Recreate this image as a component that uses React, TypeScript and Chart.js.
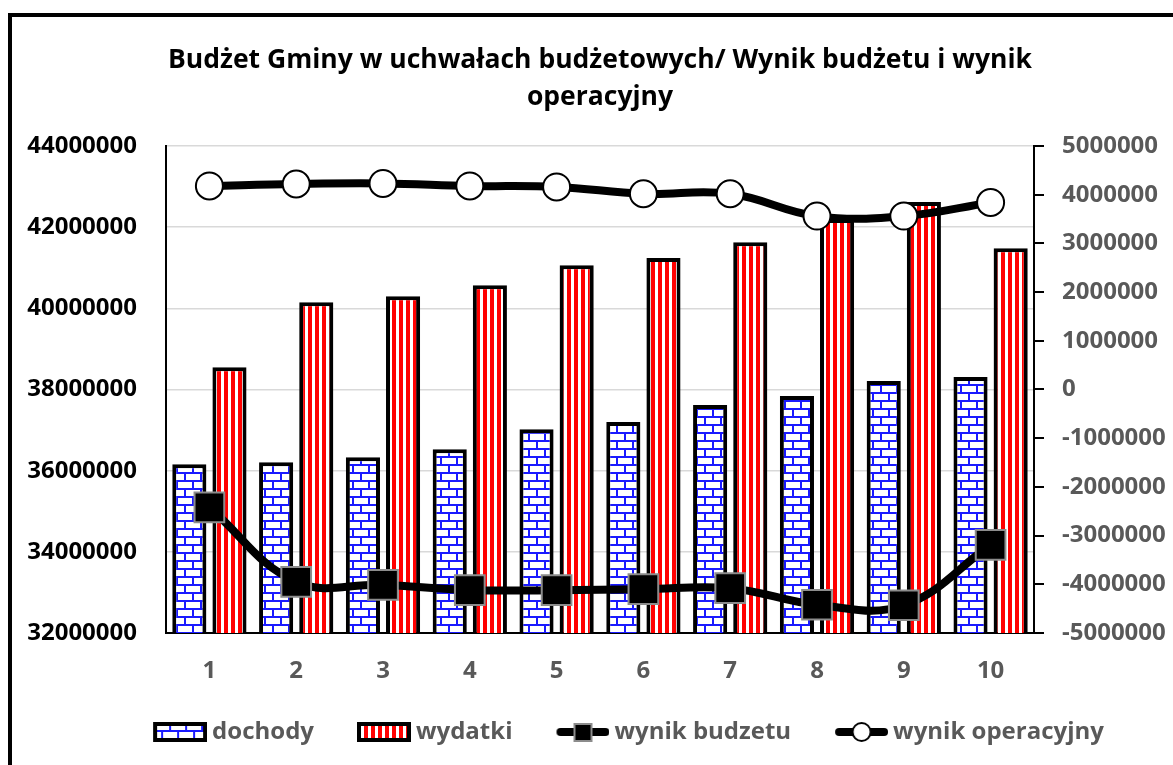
import React, { useEffect, useRef } from 'react';
import { Chart, registerables } from 'chart.js';

Chart.register(...registerables);

const categories = ['1', '2', '3', '4', '5', '6', '7', '8', '9', '10'];
const dochody = [36160000, 36210000, 36330000, 36530000, 37020000, 37200000, 37620000, 37840000, 38210000, 38310000];
const wydatki = [38550000, 40150000, 40300000, 40570000, 41060000, 41240000, 41630000, 42200000, 42620000, 41480000];
const wynikBudzetu = [-2420000, -3950000, -4010000, -4120000, -4120000, -4100000, -4080000, -4420000, -4430000, -3190000];
const wynikOperacyjny = [4180000, 4220000, 4230000, 4180000, 4160000, 4020000, 4020000, 3560000, 3560000, 3840000];
const leftTicks = [32000000, 34000000, 36000000, 38000000, 40000000, 42000000, 44000000];
const rightTicks = [-5000000, -4000000, -3000000, -2000000, -1000000, 0, 1000000, 2000000, 3000000, 4000000, 5000000];
const titleLines = ['Budżet Gminy w uchwałach budżetowych/ Wynik budżetu i wynik', 'operacyjny'];
const seriesLabels = ['dochody', 'wydatki', 'wynik budzetu', 'wynik operacyjny'];

const FONT = "'Open Sans', 'DejaVu Sans', sans-serif";
const BLUE = '#1a1aff';
const RED = '#ff0000';

function brickTile(): HTMLCanvasElement {
  const c = document.createElement('canvas');
  c.width = 16;
  c.height = 16;
  const g = c.getContext('2d')!;
  g.fillStyle = '#ffffff';
  g.fillRect(0, 0, 16, 16);
  g.fillStyle = BLUE;
  g.fillRect(0, 0, 16, 2);
  g.fillRect(0, 8, 16, 2);
  g.fillRect(0, 0, 2, 8);
  g.fillRect(8, 8, 2, 8);
  return c;
}

function stripeTile(): HTMLCanvasElement {
  const c = document.createElement('canvas');
  c.width = 7;
  c.height = 7;
  const g = c.getContext('2d')!;
  g.fillStyle = '#ffffff';
  g.fillRect(0, 0, 7, 7);
  g.fillStyle = RED;
  g.fillRect(0, 0, 4, 7);
  return c;
}

// legend images: 54px of content at the right end of a 74px canvas
const IMG_W = 74;
const OFF = 20;

function boxImage(tile: HTMLCanvasElement): HTMLCanvasElement {
  const c = document.createElement('canvas');
  c.width = IMG_W;
  c.height = 20;
  const g = c.getContext('2d')!;
  g.translate(OFF, 0);
  g.fillStyle = g.createPattern(tile, 'repeat')!;
  g.fillRect(0, 0, 54, 20);
  g.strokeStyle = '#000';
  g.lineWidth = 4;
  g.strokeRect(2, 2, 50, 16);
  return c;
}

function lineImage(kind: 'rect' | 'circle'): HTMLCanvasElement {
  const c = document.createElement('canvas');
  c.width = IMG_W;
  c.height = 22;
  const g = c.getContext('2d')!;
  g.translate(OFF, 0);
  g.strokeStyle = '#000';
  g.lineWidth = 8;
  g.lineCap = 'round';
  g.beginPath();
  g.moveTo(5, 11);
  g.lineTo(50, 11);
  g.stroke();
  if (kind === 'rect') {
    g.fillStyle = '#000';
    g.fillRect(19, 3, 17, 17);
    g.strokeStyle = '#8c8c8c';
    g.lineWidth = 2;
    g.strokeRect(19, 3, 17, 17);
  } else {
    g.fillStyle = '#fff';
    g.beginPath();
    g.arc(27.5, 11, 9, 0, Math.PI * 2);
    g.fill();
    g.strokeStyle = '#000';
    g.lineWidth = 2;
    g.stroke();
  }
  return c;
}

const frame = {
  id: 'frame',
  beforeDraw(chart: any) {
    const ctx = chart.ctx;
    ctx.save();
    ctx.fillStyle = '#ffffff';
    ctx.fillRect(0, 0, chart.width, chart.height);
    ctx.fillStyle = '#000000';
    ctx.fillRect(8, 13, 4, chart.height - 13);
    ctx.fillRect(8, 13, chart.width - 8, 4);
    ctx.restore();
  },
};

export default function App() {
  const ref = useRef<HTMLCanvasElement | null>(null);

  useEffect(() => {
    if (!ref.current) return;
    const ctx = ref.current.getContext('2d')!;
    const brick = ctx.createPattern(brickTile(), 'repeat');
    const stripes = ctx.createPattern(stripeTile(), 'repeat');
    const legendImages = [boxImage(brickTile()), boxImage(stripeTile()), lineImage('rect'), lineImage('circle')];
    const tickFont = { family: FONT, size: 24, weight: 'bold' as const };

    const chart = new Chart(ref.current, {
      type: 'bar',
      data: {
        labels: categories,
        datasets: [
          {
            type: 'bar',
            label: seriesLabels[0],
            data: dochody,
            backgroundColor: brick as any,
            borderColor: '#000',
            borderWidth: 4,
            borderSkipped: false,
            yAxisID: 'y',
            order: 2,
            categoryPercentage: 0.925,
            barPercentage: 0.85,
          },
          {
            type: 'bar',
            label: seriesLabels[1],
            data: wydatki,
            backgroundColor: stripes as any,
            borderColor: '#000',
            borderWidth: 4,
            borderSkipped: false,
            yAxisID: 'y',
            order: 3,
            categoryPercentage: 0.925,
            barPercentage: 0.85,
          },
          {
            type: 'line',
            label: seriesLabels[2],
            data: wynikBudzetu,
            yAxisID: 'y2',
            borderColor: '#000',
            borderWidth: 8,
            tension: 0.4,
            fill: false,
            pointStyle: 'rect',
            pointRadius: 21,
            pointBackgroundColor: '#000',
            pointBorderColor: '#8c8c8c',
            pointBorderWidth: 2,
            order: 0,
          },
          {
            type: 'line',
            label: seriesLabels[3],
            data: wynikOperacyjny,
            yAxisID: 'y2',
            borderColor: '#000',
            borderWidth: 8,
            tension: 0.4,
            fill: false,
            pointStyle: 'circle',
            pointRadius: 13.5,
            pointBackgroundColor: '#fff',
            pointBorderColor: '#000',
            pointBorderWidth: 2,
            order: 1,
          },
        ] as any,
      },
      options: {
        responsive: false,
        animation: false,
        devicePixelRatio: 1,
        layout: { padding: { left: 25, right: -46, top: 17, bottom: 11 } },
        plugins: {
          title: {
            display: true,
            text: titleLines,
            color: '#000',
            font: { family: FONT, size: 26.5, weight: 'bold', lineHeight: 1.396 },
            padding: { top: 24.5, bottom: 30.5 },
            fullSize: false,
          },
          legend: {
            position: 'bottom',
            labels: {
              usePointStyle: true,
              pointStyleWidth: 60,
              padding: 30,
              color: '#595959',
              font: { family: FONT, size: 24, weight: 'bold' },
              generateLabels: (c: any) => {
                const items = (Chart.defaults.plugins.legend.labels as any).generateLabels(c);
                return items.map((it: any) => ({ ...it, pointStyle: legendImages[it.datasetIndex] }));
              },
              sort: (a: any, b: any) => a.datasetIndex - b.datasetIndex,
            },
          },
          tooltip: { enabled: false },
        },
        scales: {
          x: {
            grid: { display: false, drawTicks: false },
            border: { display: true, color: '#000', width: 2 },
            ticks: { color: '#595959', font: tickFont, padding: 24 },
            afterFit: (s: any) => {
              s.height = 57;
            },
          },
          y: {
            position: 'left',
            min: leftTicks[0],
            max: leftTicks[leftTicks.length - 1],
            ticks: {
              stepSize: leftTicks[1] - leftTicks[0],
              color: '#000',
              font: tickFont,
              padding: 29,
              callback: (v: any) => String(v),
            },
            grid: { color: '#d9d9d9', lineWidth: 1.5, drawTicks: false },
            border: { color: '#000', width: 2 },
            afterFit: (s: any) => {
              s.width = 141;
            },
          },
          y2: {
            position: 'right',
            min: rightTicks[0],
            max: rightTicks[rightTicks.length - 1],
            ticks: {
              stepSize: rightTicks[1] - rightTicks[0],
              color: '#595959',
              font: tickFont,
              padding: 18,
              callback: (v: any) => String(v),
            },
            grid: { drawOnChartArea: false, drawTicks: true, tickLength: 10, color: '#000', lineWidth: 2 },
            border: { color: '#000', width: 2 },
            afterFit: (s: any) => {
              s.width = 185;
            },
          },
        },
      } as any,
      plugins: [frame],
    });

    return () => chart.destroy();
  }, []);

  return (
    <canvas
      ref={ref}
      width={1173}
      height={765}
      style={{ position: 'fixed', left: 0, top: 0, width: 1173, height: 765 }}
    />
  );
}
